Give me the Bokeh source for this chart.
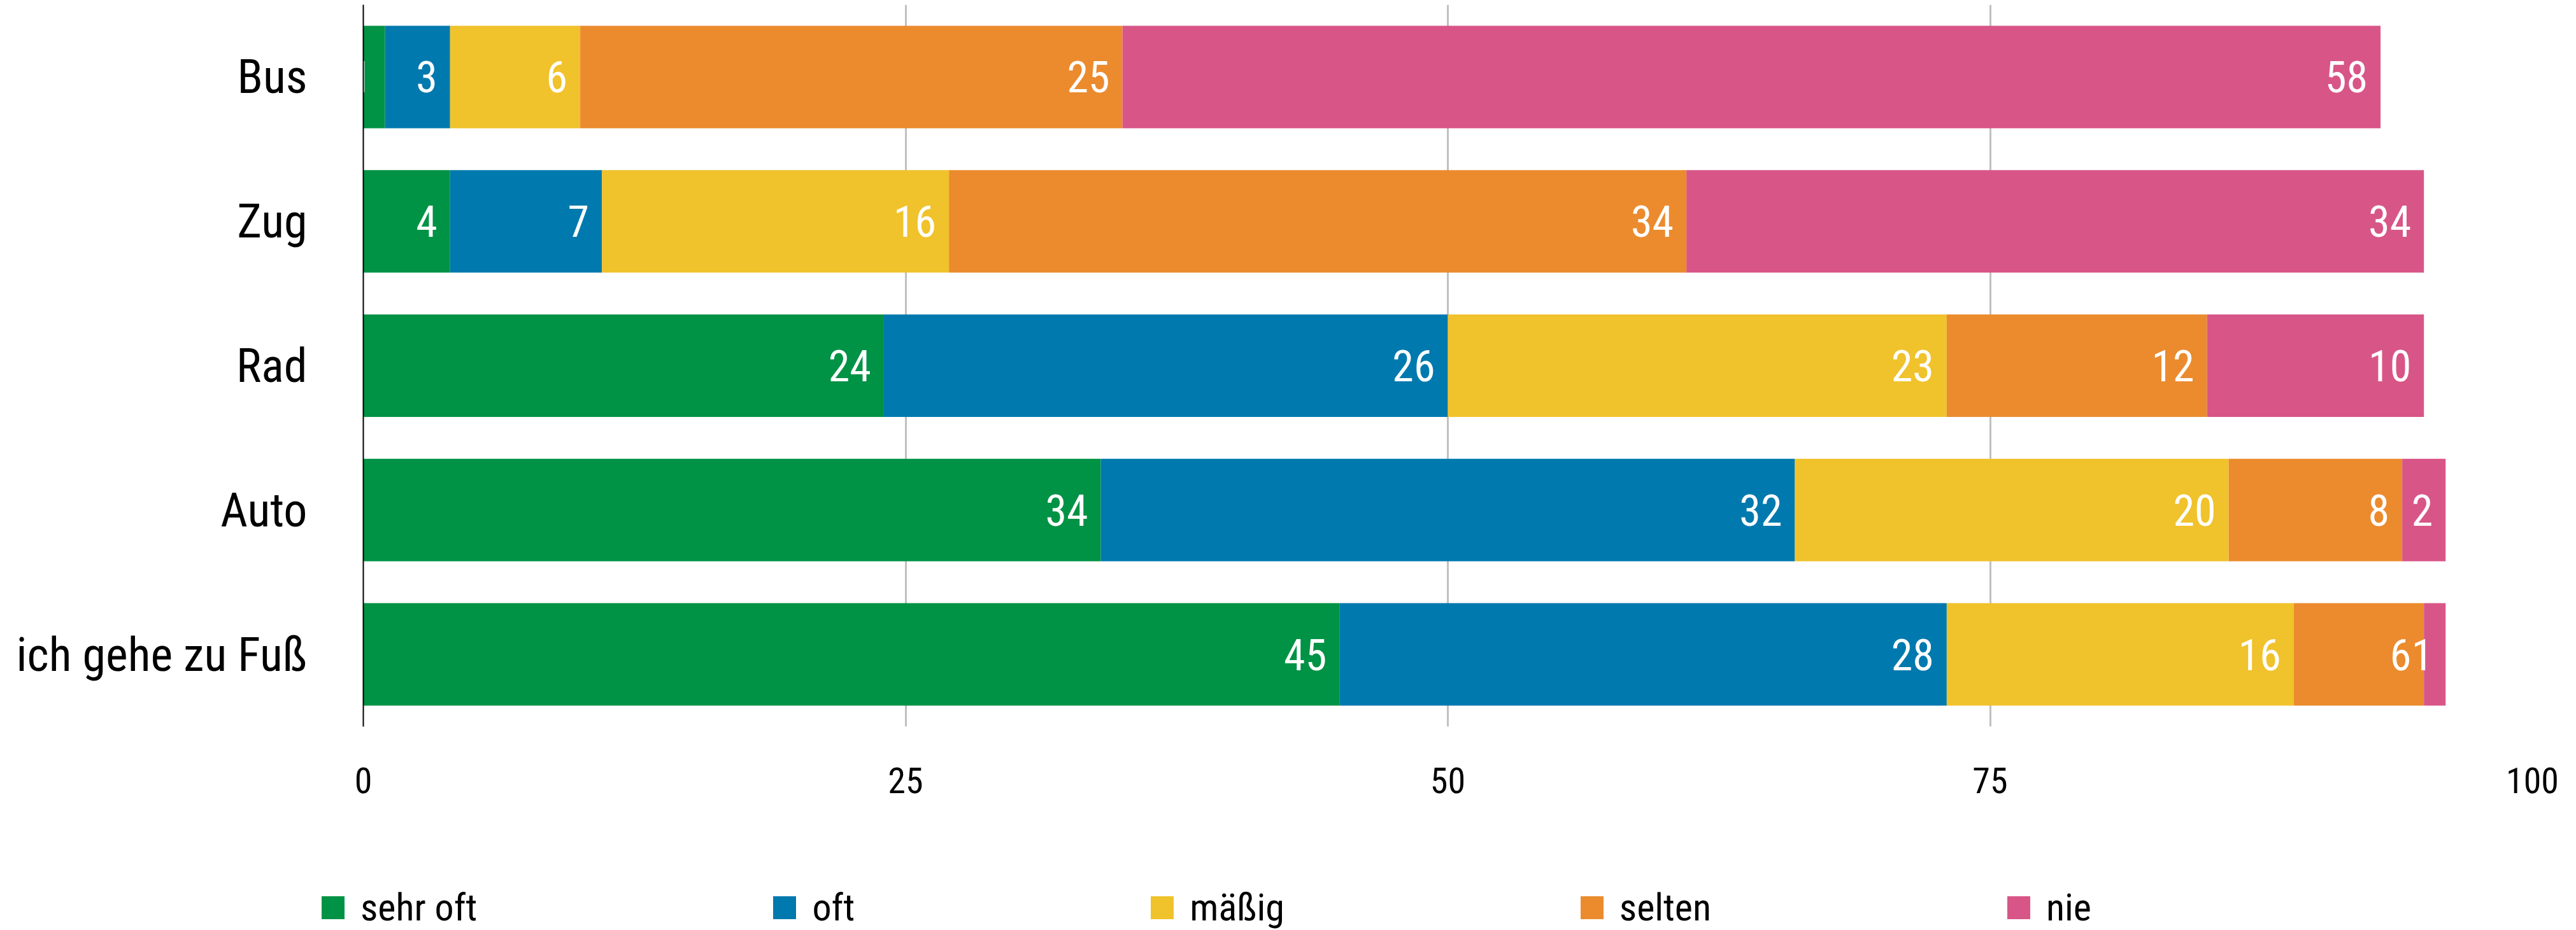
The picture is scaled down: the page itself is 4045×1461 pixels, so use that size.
from bokeh.plotting import figure
from bokeh.layouts import column
from bokeh.models import ColumnDataSource, FactorRange, Range1d, Legend, LegendItem, FixedTicker
from bokeh.embed import file_html
from bokeh.resources import INLINE
from bokeh.core.properties import value

# ---- data (top to bottom as shown) ----
modes = ["Bus", "Zug", "Rad", "Auto", "ich gehe zu Fuß"]
levels = ["sehr oft", "oft", "mäßig", "selten", "nie"]
sehr_oft = [1, 4, 24, 34, 45]
oft = [3, 7, 26, 32, 28]
maessig = [6, 16, 23, 20, 16]
selten = [25, 34, 12, 8, 6]
nie = [58, 34, 10, 2, 1]
colors = ["#009245", "#0079AE", "#F0C22B", "#EB8B2E", "#D85587"]
x_ticks = [0, 25, 50, 75, 100]

FONT = "Roboto Condensed, Roboto"
W = 4029
H_MAIN = 1300
H_LEG = 161

series = [sehr_oft, oft, maessig, selten, nie]
keys = ["s0", "s1", "s2", "s3", "s4"]
data = {"mode": modes}
running = [0] * len(modes)
for k, vals in zip(keys, series):
    data[k] = vals
    running = [r + v for r, v in zip(running, vals)]
    data[k + "_end"] = list(running)
    data[k + "_lab"] = [str(v) for v in vals]
source = ColumnDataSource(data)

p = figure(
    width=W, height=H_MAIN,
    y_range=FactorRange(factors=list(reversed(modes)), range_padding=0),
    x_range=Range1d(0, 100),
    output_backend="svg", toolbar_location=None,
    min_border_left=570, min_border_right=W - 3976, min_border_top=7,
    min_border_bottom=H_MAIN - 1141,
)
p.frame_align = False
p.outline_line_color = None
p.background_fill_color = "white"
p.border_fill_color = "white"

renderers = p.hbar_stack(keys, y="mode", height=0.71, color=colors, source=source, line_color=None)

for k in keys:
    p.text(x=k + "_end", y="mode", text=k + "_lab", source=source,
           x_offset=-20, text_align="right", text_baseline="middle",
           text_color="white", text_font=value(FONT), text_font_size="68px")

# grid
p.ygrid.grid_line_color = None
p.xgrid.ticker = FixedTicker(ticks=x_ticks)
p.xgrid.grid_line_color = "#c0c0c0"
p.xgrid.grid_line_width = 3

# x axis
p.xaxis.ticker = FixedTicker(ticks=x_ticks)
p.xaxis.axis_line_color = None
p.xaxis.major_tick_line_color = None
p.xaxis.minor_tick_line_color = None
p.xaxis.major_label_standoff = 58
p.xaxis.major_label_text_font = FONT
p.xaxis.major_label_text_font_size = "56px"
p.xaxis.major_label_text_color = "black"

# y axis
p.yaxis.axis_line_color = "black"
p.yaxis.axis_line_width = 2
p.yaxis.major_tick_line_color = None
p.yaxis.minor_tick_line_color = None
p.yaxis.major_label_standoff = 82
p.yaxis.major_label_text_font = FONT
p.yaxis.major_label_text_font_size = "74px"
p.yaxis.major_label_text_color = "black"

# ---- legend strip below the chart ----
pl = figure(width=W, height=H_LEG, x_range=Range1d(0, 1), y_range=Range1d(0, 1),
            output_backend="svg", toolbar_location=None,
            min_border_left=0, min_border_right=0, min_border_top=0, min_border_bottom=0)
pl.frame_align = False
pl.axis.visible = False
pl.grid.visible = False
pl.outline_line_color = None
pl.background_fill_color = "white"
pl.border_fill_color = "white"

# zero-size swatch renderers (only used to draw the legend keys)
swatches = [pl.hbar(y=[0], left=[0], right=[0], height=0, fill_color=c, line_color=None)
            for c in colors]
items = [LegendItem(label=lab, renderers=[r]) for lab, r in zip(levels, swatches)]
legend = Legend(items=items, orientation="horizontal", ncols=5, nrows=1,
                location=(500, 0),
                spacing=460, label_standoff=21, glyph_width=45, glyph_height=45,
                padding=0, margin=0, border_line_color=None, background_fill_alpha=0,
                label_text_font=FONT, label_text_font_size="60px", label_text_color="black")
pl.add_layout(legend, "center")

layout = column(p, pl, spacing=0)
open("out.html", "w").write(file_html(layout, INLINE))
